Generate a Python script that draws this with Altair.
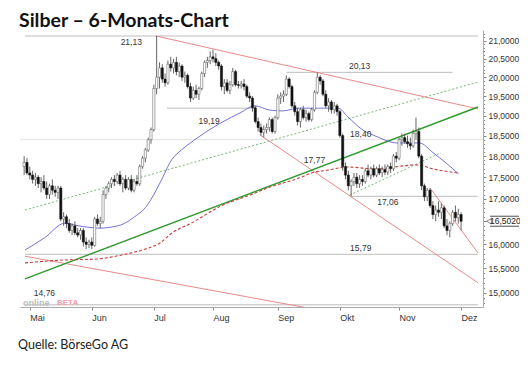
import altair as alt
import pandas as pd

# ---------------- data (trading-day index 0 = 28 Apr 2016) ----------------
months = ["Mai", "Jun", "Jul", "Aug", "Sep", "Okt", "Nov", "Dez"]
month_idx = [2, 24, 46, 67, 90, 112, 133, 155]

opens = [17.75, 17.85, 17.60, 17.55, 17.45, 17.50, 17.35, 17.40, 17.25, 17.10,
         17.30, 17.20, 17.15, 17.25, 16.55, 16.60, 16.45, 16.30, 16.40, 16.25,
         16.20, 16.30, 16.05, 16.00, 16.05, 15.98, 16.55, 16.45, 16.50, 17.10,
         17.25, 17.35, 17.45, 17.40, 17.55, 17.35, 17.45, 17.25, 17.45, 17.20,
         17.40, 17.35, 17.75, 17.95, 18.15, 18.40, 18.65, 19.70, 20.00, 20.25,
         19.95, 19.85, 20.35, 20.25, 20.40, 20.15, 20.30, 20.00, 20.05, 19.75,
         19.45, 19.65, 19.55, 19.70, 20.10, 20.40, 20.45, 20.55, 20.50, 20.40,
         20.30, 19.75, 19.85, 19.65, 19.80, 20.15, 19.80, 19.78, 19.82, 19.75,
         19.50, 19.45, 19.20, 18.85, 18.70, 18.58, 18.65, 18.70, 18.90, 18.60,
         18.95, 19.45, 19.50, 19.55, 19.95, 19.75, 19.25, 19.10, 18.85, 19.15,
         18.95, 19.05, 18.90, 19.15, 19.60, 20.00, 19.90, 19.55, 19.25, 19.35,
         19.15, 19.25, 19.10, 18.50, 17.75, 17.55, 17.30, 17.40, 17.50, 17.35,
         17.45, 17.40, 17.65, 17.55, 17.70, 17.55, 17.70, 17.60, 17.68, 17.62,
         17.75, 17.70, 18.00, 17.95, 18.40, 18.45, 18.35, 18.30, 18.25, 18.55,
         18.60, 18.00, 17.30, 17.05, 17.20, 16.85, 16.65, 16.75, 16.70, 16.80,
         16.40, 16.30, 16.45, 16.70, 16.58, 16.65]
highs = [18.00, 17.95, 17.75, 17.65, 17.60, 17.55, 17.50, 17.55, 17.40, 17.35,
         17.45, 17.30, 17.30, 17.30, 16.70, 16.65, 16.55, 16.45, 16.50, 16.35,
         16.35, 16.35, 16.15, 16.10, 16.15, 16.60, 16.65, 16.60, 17.20, 17.30,
         17.40, 17.50, 17.55, 17.60, 17.65, 17.50, 17.55, 17.50, 17.55, 17.45,
         17.55, 17.80, 18.00, 18.20, 18.45, 18.70, 19.80, 21.13, 20.40, 20.35,
         20.10, 20.45, 20.55, 20.50, 20.55, 20.40, 20.35, 20.15, 20.10, 19.85,
         19.75, 19.80, 19.75, 20.15, 20.45, 20.55, 20.70, 20.75, 20.65, 20.45,
         20.35, 19.95, 19.95, 19.90, 20.25, 20.20, 19.90, 19.90, 19.95, 19.80,
         19.60, 19.50, 19.25, 18.95, 18.80, 18.75, 18.80, 18.95, 18.95, 19.00,
         19.55, 19.60, 19.65, 20.05, 20.00, 19.80, 19.35, 19.20, 19.20, 19.25,
         19.15, 19.10, 19.20, 19.65, 20.13, 20.05, 19.95, 19.65, 19.45, 19.40,
         19.35, 19.30, 19.15, 18.55, 17.85, 17.65, 17.45, 17.60, 17.60, 17.55,
         17.55, 17.70, 17.80, 17.75, 17.80, 17.75, 17.80, 17.75, 17.80, 17.80,
         17.85, 18.05, 18.10, 18.45, 18.55, 18.55, 18.50, 18.45, 18.65, 18.95,
         18.70, 18.05, 17.35, 17.25, 17.25, 16.95, 16.85, 16.95, 16.90, 16.85,
         16.55, 16.50, 16.75, 16.85, 16.78, 16.70]
lows = [17.55, 17.55, 17.45, 17.35, 17.30, 17.25, 17.15, 17.20, 17.00, 17.00,
        17.10, 17.05, 17.00, 16.50, 16.40, 16.35, 16.25, 16.20, 16.20, 16.15,
        16.10, 15.95, 15.90, 15.92, 15.90, 15.95, 16.40, 16.35, 16.45, 17.00,
        17.15, 17.25, 17.30, 17.35, 17.30, 17.15, 17.20, 17.20, 17.15, 17.15,
        17.30, 17.30, 17.70, 17.85, 18.10, 18.30, 18.60, 19.55, 19.70, 19.85,
        19.75, 19.80, 20.15, 20.10, 20.05, 20.00, 19.90, 19.85, 19.70, 19.35,
        19.40, 19.45, 19.40, 19.65, 20.00, 20.25, 20.35, 20.40, 20.30, 20.20,
        19.65, 19.55, 19.60, 19.55, 19.75, 19.75, 19.70, 19.70, 19.65, 19.45,
        19.35, 19.10, 18.80, 18.60, 18.50, 18.45, 18.55, 18.60, 18.55, 18.55,
        18.90, 19.30, 19.35, 19.50, 19.70, 19.20, 19.00, 18.75, 18.70, 18.90,
        18.85, 18.85, 18.85, 19.10, 19.55, 19.80, 19.50, 19.20, 19.10, 19.05,
        19.05, 19.00, 18.45, 17.65, 17.45, 17.20, 17.06, 17.30, 17.25, 17.25,
        17.30, 17.35, 17.50, 17.45, 17.50, 17.50, 17.55, 17.50, 17.55, 17.55,
        17.60, 17.65, 17.85, 17.90, 18.25, 18.30, 18.20, 18.15, 18.20, 18.40,
        17.95, 17.20, 16.95, 16.95, 16.80, 16.55, 16.50, 16.60, 16.55, 16.35,
        16.20, 16.15, 16.40, 16.50, 16.45, 16.30]
closes = [17.85, 17.60, 17.55, 17.45, 17.50, 17.35, 17.40, 17.25, 17.10, 17.30,
          17.20, 17.15, 17.25, 16.55, 16.60, 16.45, 16.30, 16.40, 16.25, 16.20,
          16.30, 16.05, 16.00, 16.05, 15.98, 16.55, 16.45, 16.50, 17.10, 17.25,
          17.35, 17.45, 17.40, 17.55, 17.35, 17.45, 17.25, 17.45, 17.20, 17.40,
          17.35, 17.75, 17.95, 18.15, 18.40, 18.65, 19.70, 20.00, 20.25, 19.95,
          19.85, 20.35, 20.25, 20.40, 20.15, 20.30, 20.00, 20.05, 19.75, 19.45,
          19.65, 19.55, 19.70, 20.10, 20.40, 20.45, 20.55, 20.50, 20.40, 20.30,
          19.75, 19.85, 19.65, 19.80, 20.15, 19.80, 19.78, 19.82, 19.75, 19.50,
          19.45, 19.20, 18.85, 18.70, 18.58, 18.65, 18.70, 18.90, 18.60, 18.95,
          19.45, 19.50, 19.55, 19.95, 19.75, 19.25, 19.10, 18.85, 19.15, 18.95,
          19.05, 18.90, 19.15, 19.60, 20.00, 19.90, 19.55, 19.25, 19.35, 19.15,
          19.25, 19.10, 18.50, 17.75, 17.55, 17.30, 17.40, 17.50, 17.35, 17.45,
          17.40, 17.65, 17.55, 17.70, 17.55, 17.70, 17.60, 17.68, 17.62, 17.75,
          17.70, 18.00, 17.95, 18.40, 18.45, 18.35, 18.30, 18.25, 18.55, 18.60,
          18.00, 17.30, 17.05, 17.20, 16.85, 16.65, 16.75, 16.70, 16.80, 16.40,
          16.30, 16.45, 16.70, 16.58, 16.65, 16.50]

# 50-day moving average (blue)
ma50_i = [0.3, 7.2, 14.5, 19.4, 27.3, 31.5, 34.3, 38.5, 43.7, 48.2, 52.3, 55.8,
          58.6, 64.5, 70.4, 76.6, 81.9, 87.1, 91.6, 97.5, 104.4, 111.4, 114.8,
          120.1, 125.3, 132.2, 140.2, 145.1, 149.6, 154.1]
ma50_v = [15.88, 16.14, 16.46, 16.40, 16.35, 16.38, 16.42, 16.57, 16.86, 17.37,
          17.91, 18.15, 18.30, 18.59, 18.84, 19.07, 19.25, 19.14, 19.12, 19.19,
          19.19, 19.19, 18.97, 18.64, 18.47, 18.32, 18.32, 18.08, 17.84, 17.58]
# 200-day moving average (red dashed)
ma200_i = [0.3, 14.2, 25.6, 35.0, 43.0, 48.2, 52.3, 59.3, 70.4, 80.1, 87.1,
           97.5, 102.0, 107.9, 114.8, 125.3, 131.2, 139.1, 145.4, 153.7]
ma200_v = [15.61, 15.67, 15.69, 15.78, 15.90, 16.03, 16.24, 16.46, 16.86, 17.09,
           17.27, 17.48, 17.60, 17.67, 17.74, 17.69, 17.74, 17.79, 17.69, 17.60]

# trend lines: start index, start value, end index, end value
red_i0 = [46.8, 83.6, 0.3, 144.0]
red_v0 = [21.13, 18.52, 15.75, 17.25]
red_i1 = [161.0, 161.0, 104.4, 161.0]
red_v1 = [19.17, 15.20, 14.66, 15.82]
green_i0, green_v0, green_i1, green_v1 = [0.3], [15.28], [161.0], [19.22]
gdot_i0 = [0.3, 115.5]
gdot_v0 = [16.75, 17.09]
gdot_i1 = [161.0, 147.8]
gdot_v1 = [19.87, 18.08]

# horizontal marker levels
lev_v = [21.13, 19.19, 20.13, 17.06, 15.79, 14.76]
lev_i0 = [0.3, 50.6, 93.0, 115.5, 0.3, 0.3]
lev_i1 = [161.0, 81.9, 152.0, 161.0, 161.0, 161.0]
faint_v = [18.40]
lab_text = ["21,13", "19,19", "20,13", "18,40", "17,77", "17,06", "15,79", "14,76"]
lab_i = [38.0, 65.6, 119.0, 119.4, 103.0, 129.0, 119.4, 7.2]
lab_v = [21.13, 19.19, 20.13, 18.40, 17.77, 17.06, 15.79, 14.76]
last_price = 16.502

# ---------------- chart ----------------
W, H = 463, 277
FONT = "Liberation Sans"

cd = pd.DataFrame({"i": list(range(len(opens))), "o": opens, "h": highs,
                   "l": lows, "c": closes})

xscale = alt.Scale(domain=[0.3, 161], nice=False, zero=False)
yscale = alt.Scale(type="log", domain=[14.717, 21.30], nice=False, zero=False)

month_expr = " : ".join(f"datum.value == {m} ? '{n}'" for m, n in zip(month_idx, months)) + " : ''"
xaxis = alt.Axis(values=month_idx, labelExpr=month_expr, labelAlign="left",
                 labelPadding=3, labelFontSize=9, labelColor="#333", labelFont=FONT,
                 tickSize=3, tickColor="#888", domainColor="#aaa", grid=False,
                 title=None, labelFlush=False, labelOverlap=False)
ytick_vals = [round(14.8 + 0.1 * k, 1) for k in range(65)]
major = "abs(datum.value*2 - round(datum.value*2)) < 0.001"
yaxis = alt.Axis(orient="right", values=ytick_vals,
                 labelExpr=f"{major} && abs(datum.value - 16.5) > 0.01 ? replace(format(datum.value, '.4f'), '.', ',') : ''",
                 tickSize={"condition": {"test": major, "value": 3}, "value": 1.5},
                 tickColor="#888", domainColor="#aaa", labelFontSize=8.5,
                 labelColor="#333", labelFont=FONT, labelPadding=2, grid=False,
                 title=None, labelOverlap=False, labelFlush=False)


def X(f):
    return alt.X(f"{f}:Q", scale=xscale, axis=xaxis)


def Y(f):
    return alt.Y(f"{f}:Q", scale=yscale, axis=yaxis)


def seg_df(i0, v0, i1, v1):
    rows = []
    for k in range(len(i0)):
        rows.append({"s": k, "i": i0[k], "v": v0[k]})
        rows.append({"s": k, "i": i1[k], "v": v1[k]})
    return pd.DataFrame(rows)


levels = alt.Chart(pd.DataFrame({"v": lev_v, "i0": lev_i0, "i1": lev_i1})).mark_rule(
    color="#bdbdbd", strokeWidth=1).encode(x=X("i0"), x2="i1", y=Y("v"))
faint = alt.Chart(pd.DataFrame({"v": faint_v})).mark_rule(
    color="#e2e2e2", strokeWidth=1).encode(y=Y("v"))

red = alt.Chart(seg_df(red_i0, red_v0, red_i1, red_v1)).mark_line(
    color="#e88a8a", strokeWidth=1, clip=True).encode(x=X("i"), y=Y("v"), detail="s:N")
green = alt.Chart(seg_df(green_i0, green_v0, green_i1, green_v1)).mark_line(
    color="#2e9a2e", strokeWidth=1.4, clip=True).encode(x=X("i"), y=Y("v"), detail="s:N")
gdot = alt.Chart(seg_df(gdot_i0, gdot_v0, gdot_i1, gdot_v1)).mark_line(
    color="#6ab06a", strokeWidth=0.9, strokeDash=[2, 2], clip=True).encode(
    x=X("i"), y=Y("v"), detail="s:N")

ma50 = alt.Chart(pd.DataFrame({"i": ma50_i, "v": ma50_v})).mark_line(
    color="#5050cc", strokeWidth=0.8, interpolate="monotone").encode(x=X("i"), y=Y("v"))
ma200 = alt.Chart(pd.DataFrame({"i": ma200_i, "v": ma200_v})).mark_line(
    color="#c83c3c", strokeWidth=1.1, strokeDash=[3, 2], interpolate="monotone").encode(
    x=X("i"), y=Y("v"))

wicks = alt.Chart(cd).mark_rule(color="#555", strokeWidth=0.9).encode(
    x=X("i"), y=Y("l"), y2="h")
bodies = alt.Chart(cd).mark_bar(size=2.2, strokeWidth=0.5).encode(
    x=X("i"), y=Y("o"), y2="c",
    fill=alt.condition("datum.c >= datum.o", alt.value("#ffffff"), alt.value("#111111")),
    stroke=alt.condition("datum.c >= datum.o", alt.value("#555555"), alt.value("#111111")))

labdf = pd.DataFrame({"t": lab_text, "i": lab_i, "v": lab_v})
above = ["20,13", "18,40", "17,77", "15,79"]
below = ["21,13", "17,06"]
lab_above = alt.Chart(labdf).transform_filter(
    alt.FieldOneOfPredicate(field="t", oneOf=above)).mark_text(
    fontSize=8.5, font=FONT, color="#333", dy=-6).encode(x=X("i"), y=Y("v"), text="t:N")
lab_below = alt.Chart(labdf).transform_filter(
    alt.FieldOneOfPredicate(field="t", oneOf=below)).mark_text(
    fontSize=8.5, font=FONT, color="#333", dy=6).encode(x=X("i"), y=Y("v"), text="t:N")
lab_1919 = alt.Chart(labdf).transform_filter(alt.datum.t == "19,19").mark_text(
    fontSize=8.5, font=FONT, color="#333", dy=13).encode(x=X("i"), y=Y("v"), text="t:N")
lab_1476 = alt.Chart(labdf).transform_filter(alt.datum.t == "14,76").mark_text(
    fontSize=8.5, font=FONT, color="#333", dy=-12).encode(x=X("i"), y=Y("v"), text="t:N")

pdf = pd.DataFrame({"v": [last_price], "t": ["16,5020"]})
price_txt = alt.Chart(pdf).mark_text(align="left", fontSize=8.5, font=FONT,
                                     color="#222").encode(
    x=alt.value(W + 7), y=Y("v"), text="t:N")
price_top = alt.Chart(pdf).mark_rule(color="#222", strokeWidth=0.8, yOffset=-5).encode(
    x=alt.value(W + 7), x2=alt.value(W + 36), y=Y("v"))
price_bot = alt.Chart(pdf).mark_rule(color="#222", strokeWidth=0.8, yOffset=5).encode(
    x=alt.value(W + 7), x2=alt.value(W + 36), y=Y("v"))
price_tip = alt.Chart(pdf).mark_point(shape="triangle-left", size=30, filled=False,
                                      color="#222", strokeWidth=0.8).encode(
    x=alt.value(W + 6), y=Y("v"))

title = alt.Chart(pd.DataFrame({"t": ["Silber – 6-Monats-Chart"]})).mark_text(
    align="left", baseline="middle", fontSize=19.5, fontWeight="bold", font="Lato",
    color="#111").encode(x=alt.value(-1), y=alt.value(-9), text="t:N")
footer = alt.Chart(pd.DataFrame({"t": ["Quelle: BörseGo AG"]})).mark_text(
    align="left", baseline="middle", fontSize=12.5, font="Lato", color="#222").encode(
    x=alt.value(-2), y=alt.value(H + 38), text="t:N")
wm1 = alt.Chart(pd.DataFrame({"t": ["online"]})).mark_text(
    align="left", baseline="middle", fontSize=9, fontWeight="bold", font=FONT,
    color="#bcbcbc").encode(x=alt.value(3), y=alt.value(H - 4), text="t:N")
wm2 = alt.Chart(pd.DataFrame({"t": ["BETA"]})).mark_text(
    align="left", baseline="middle", fontSize=8, fontWeight="bold", font=FONT,
    color="#f0a0a8").encode(x=alt.value(37), y=alt.value(H - 4), text="t:N")

chart = alt.layer(
    faint, levels, red, gdot, green, ma200, ma50, wicks, bodies,
    lab_above, lab_below, lab_1919, lab_1476,
    price_txt, price_top, price_bot, price_tip, title, footer, wm1, wm2
).properties(
    width=W, height=H,
    padding={"left": 12, "top": 22, "right": 37, "bottom": 50},
    autosize=alt.AutoSizeParams(type="none"),
    background="white",
).configure_view(stroke=None)

chart.save("out.html", embed_options={"renderer": "svg", "actions": False})
